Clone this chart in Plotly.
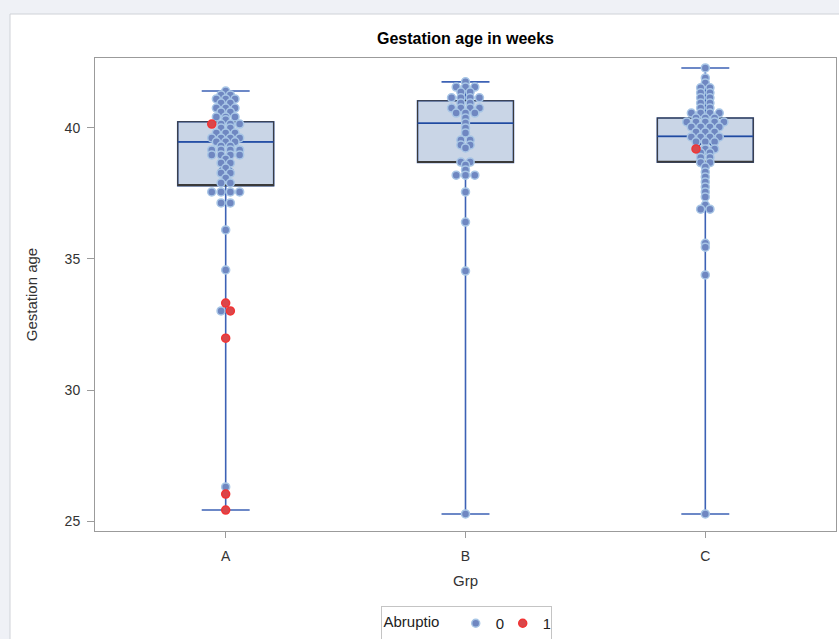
import numpy as np
import plotly.graph_objects as go

# ---------------- data ----------------
groups = ["A", "B", "C"]

A_gest = [
    41.41,
    41.26, 41.26,
    41.11, 41.11, 41.11,
    40.95, 40.95,
    40.76, 40.76, 40.76,
    40.61, 40.61,
    40.42, 40.42, 40.42,
    40.31,
    40.15, 40.15, 40.15, 40.15,
    40.00, 40.00,
    39.81, 39.81, 39.81,
    39.62, 39.62, 39.62, 39.62,
    39.47, 39.47, 39.47,
    39.31, 39.31,
    39.16, 39.16, 39.16, 39.16,
    38.97, 38.97, 38.97, 38.97,
    38.82,
    38.66, 38.66,
    38.47,
    38.28, 38.28,
    38.09,
    37.90, 37.90,
    37.56, 37.56, 37.56, 37.56,
    37.14, 37.14,
    36.11,
    34.58,
    33.32,
    33.02, 33.02,
    31.98,
    26.30,
    26.03,
    25.42,
]
A_abruptio = [
    0,
    0, 0,
    0, 0, 0,
    0, 0,
    0, 0, 0,
    0, 0,
    0, 0, 0,
    0,
    1, 0, 0, 0,
    0, 0,
    0, 0, 0,
    0, 0, 0, 0,
    0, 0, 0,
    0, 0,
    0, 0, 0, 0,
    0, 0, 0, 0,
    0,
    0, 0,
    0,
    0, 0,
    0,
    0, 0,
    0, 0, 0, 0,
    0, 0,
    0,
    0,
    1,
    0, 1,
    1,
    0,
    1,
    1,
]

B_gest = [
    41.76,
    41.56, 41.56, 41.56,
    41.37, 41.37,
    41.15, 41.15, 41.15, 41.15,
    40.95, 40.95,
    40.76, 40.76, 40.76, 40.76,
    40.57, 40.57, 40.57,
    40.38,
    40.19,
    40.00,
    39.81,
    39.54, 39.54,
    39.35, 39.35,
    39.24,
    38.70, 38.70,
    38.59,
    38.40,
    38.20, 38.20, 38.20,
    37.56,
    36.41,
    34.54,
    25.27,
]
B_abruptio = [
    0,
    0, 0, 0,
    0, 0,
    0, 0, 0, 0,
    0, 0,
    0, 0, 0, 0,
    0, 0, 0,
    0,
    0,
    0,
    0,
    0, 0,
    0, 0,
    0,
    0, 0,
    0,
    0,
    0, 0, 0,
    0,
    0,
    0,
    0,
]

C_gest = [
    42.29,
    41.91,
    41.72,
    41.53, 41.53,
    41.34, 41.34,
    41.15, 41.15,
    40.95, 40.95,
    40.76, 40.76,
    40.57, 40.57, 40.57, 40.57,
    40.38, 40.38, 40.38,
    40.23, 40.23, 40.23, 40.23, 40.23,
    40.04, 40.04, 40.04, 40.04,
    39.85, 39.85, 39.85,
    39.66, 39.66, 39.66, 39.66,
    39.47, 39.47, 39.47,
    39.20, 39.20, 39.20,
    39.05, 39.05,
    38.87, 38.87,
    38.68, 38.68,
    38.51,
    38.32,
    38.13,
    37.94,
    37.75,
    37.56,
    37.37,
    37.06,
    36.90, 36.90,
    35.60,
    35.45,
    34.39,
    25.27,
]
C_abruptio = [
    0,
    0,
    0,
    0, 0,
    0, 0,
    0, 0,
    0, 0,
    0, 0,
    0, 0, 0, 0,
    0, 0, 0,
    0, 0, 0, 0, 0,
    0, 0, 0, 0,
    0, 0, 0,
    0, 0, 0, 0,
    0, 0, 0,
    1, 0, 0,
    0, 0,
    0, 0,
    0, 0,
    0,
    0,
    0,
    0,
    0,
    0,
    0,
    0,
    0, 0,
    0,
    0,
    0,
    0,
]

box_q1 = [37.80, 38.68, 38.69]
box_median = [39.47, 40.18, 39.68]
box_q3 = [40.24, 41.04, 40.38]

y_ticks = [25, 30, 35, 40]
abruptio_levels = [0, 1]

# ---------------- styling ----------------
FONT = "Liberation Sans, Arial, sans-serif"
PAGE_BG = "#eff1f6"
BOX_FILL = "#c9d5e6"
BOX_EDGE = "#3a3a3a"
WHISKER = "#3d62b5"
AXIS_COL = "#9b9b9b"
MEAN_COL = "#1f4597"
PT_FILL = {0: "#6f87c1", 1: "#d9474b"}
PT_EDGE = {0: "#a8c6e6", 1: "#f23434"}
JITTER_STEP = 0.0388   # horizontal spacing of identical values (category units)
BOX_WIDTH = 0.4

all_gest = [A_gest, B_gest, C_gest]
all_abr = [A_abruptio, B_abruptio, C_abruptio]


def jitter_offsets(values, step):
    counts = {}
    for v in values:
        counts[v] = counts.get(v, 0) + 1
    seen = {}
    offs = []
    for v in values:
        k = seen.get(v, 0)
        seen[v] = k + 1
        offs.append((k - (counts[v] - 1) / 2.0) * step)
    return offs


pos = list(range(len(groups)))
lower = [min(g) for g in all_gest]
upper = [max(g) for g in all_gest]
means = [float(np.mean(g)) for g in all_gest]

fig = go.Figure()

# box with blue whiskers / median
fig.add_trace(go.Box(
    x=pos, q1=box_q1, median=box_median, q3=box_q3,
    lowerfence=lower, upperfence=upper,
    width=BOX_WIDTH, whiskerwidth=0.5,
    fillcolor=BOX_FILL, line=dict(color=WHISKER, width=1.6),
    boxpoints=False, showlegend=False, hoverinfo="skip",
))
# dark outline of the box (no whiskers)
fig.add_trace(go.Box(
    x=pos, q1=box_q1, median=box_q1, q3=box_q3,
    lowerfence=box_q1, upperfence=box_q3,
    width=BOX_WIDTH, whiskerwidth=0,
    fillcolor="rgba(0,0,0,0)", line=dict(color=BOX_EDGE, width=1.1),
    boxpoints=False, showlegend=False, hoverinfo="skip",
))
# redraw median line in blue on top of outline
fig.add_trace(go.Box(
    x=pos, q1=box_median, median=box_median, q3=box_median,
    lowerfence=box_median, upperfence=box_median,
    width=BOX_WIDTH, whiskerwidth=0,
    fillcolor="rgba(0,0,0,0)", line=dict(color="#1f4aa0", width=1.4),
    boxpoints=False, showlegend=False, hoverinfo="skip",
))

# mean diamonds
fig.add_trace(go.Scatter(
    x=pos, y=means, mode="markers", showlegend=False, hoverinfo="skip",
    marker=dict(symbol="diamond-open", size=11, color=MEAN_COL,
                line=dict(color=MEAN_COL, width=1.5)),
))

# points
for lvl in abruptio_levels:
    xs, ys = [], []
    for gi, (vals, flags) in enumerate(zip(all_gest, all_abr)):
        offs = jitter_offsets(vals, JITTER_STEP)
        for v, f, o in zip(vals, flags, offs):
            if f == lvl:
                xs.append(gi + o)
                ys.append(v)
    fig.add_trace(go.Scatter(
        x=xs, y=ys, mode="markers", name=str(lvl),
        marker=dict(size=8, color=PT_FILL[lvl],
                    line=dict(color=PT_EDGE[lvl], width=1.5)),
    ))

L, R, T, B = 95, 836, 58, 531
W, H = 839, 639
pw, ph = R - L, B - T

fig.add_shape(type="rect", xref="paper", yref="paper",
              x0=(10 - L) / pw, x1=(860 - L) / pw,
              y0=(B - 660) / ph, y1=(B - 14) / ph,
              fillcolor="white", line=dict(color="#cfd2d8", width=1),
              layer="below")

fig.update_layout(
    width=W, height=H, autosize=False,
    margin=dict(l=L, r=W - R, t=T, b=H - B, pad=0, autoexpand=False),
    paper_bgcolor=PAGE_BG, plot_bgcolor="white",
    boxmode="overlay",
    font=dict(family=FONT, size=13, color="#333333"),
    title=dict(text="<b>Gestation age in weeks</b>",
               font=dict(family=FONT, size=16, color="#000000"),
               x=(465.5) / W, xanchor="center",
               y=1 - 38 / H, yanchor="middle"),
    xaxis=dict(
        range=[-0.545, 2.545], tickmode="array", tickvals=pos, ticktext=groups,
        ticks="outside", ticklen=6, tickcolor=AXIS_COL, tickwidth=1,
        showline=True, linecolor=AXIS_COL, linewidth=1, mirror=True,
        showgrid=False, zeroline=False, automargin=False,
        ticklabelstandoff=6,
        tickfont=dict(family=FONT, size=14, color="#333333"),
        title=dict(text="Grp", font=dict(family=FONT, size=15, color="#333333"),
                   standoff=12),
    ),
    yaxis=dict(
        range=[24.62, 42.67], tickmode="array", tickvals=y_ticks,
        ticks="outside", ticklen=7, tickcolor=AXIS_COL, tickwidth=1,
        showline=True, linecolor=AXIS_COL, linewidth=1, mirror=True,
        showgrid=False, zeroline=False, automargin=False,
        ticklabelstandoff=4,
        tickfont=dict(family=FONT, size=14, color="#333333"),
        title=dict(text="Gestation age", font=dict(family=FONT, size=15, color="#333333"),
                   standoff=23),
    ),
    legend=dict(
        orientation="h", x=(466 - L) / pw, xanchor="center",
        yref="container", y=1 - 606 / H, yanchor="top",
        title=dict(text="Abruptio\u00a0\u00a0", side="left",
                   font=dict(family=FONT, size=15, color="#222222")),
        font=dict(family=FONT, size=15, color="#222222"),
        bordercolor="#c4c4c4", borderwidth=1, bgcolor="white",
        itemsizing="trace", tracegroupgap=0,
        entrywidth=2, entrywidthmode="pixels",
    ),
)

fig.write_html(
    "out.html",
    config={"displayModeBar": False},
    post_script="document.body.style.margin='0';document.body.style.overflow='hidden';",
)
